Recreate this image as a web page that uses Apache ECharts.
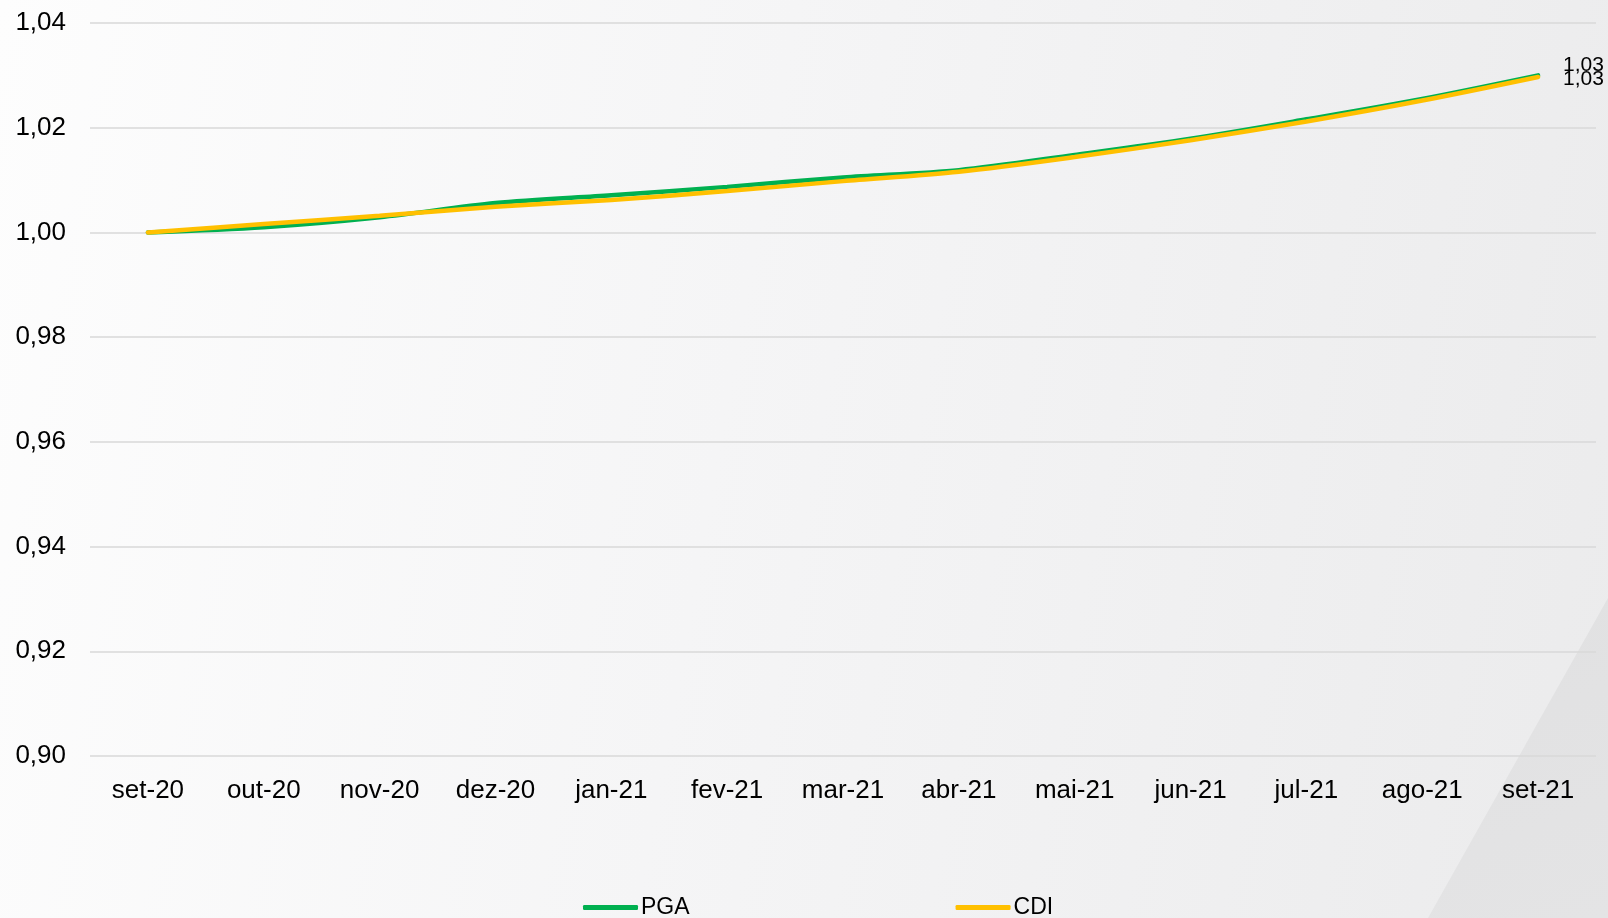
<!DOCTYPE html>
<html>
<head>
<meta charset="utf-8">
<script src="https://cdn.jsdelivr.net/npm/echarts@6/dist/echarts.min.js"></script>
<style>
  html, body { margin: 0; padding: 0; }
  body {
    width: 1608px; height: 918px; overflow: hidden; position: relative;
    background: linear-gradient(100deg, #fdfdfd 0%, #f5f5f6 45%, #ebebec 100%);
  }
  .corner {
    position: absolute; left: 0; top: 0; width: 1608px; height: 918px;
    background: linear-gradient(160deg, #d7d7d8 0%, #e4e4e5 100%);
    clip-path: polygon(1608px 598px, 1608px 918px, 1428px 918px);
  }
  #chart { position: absolute; left: 0; top: 0; width: 1608px; height: 918px; }
</style>
</head>
<body>
<div class="corner"></div>
<div id="chart"></div>
<script>
// dados do gráfico
const meses = ["set-20", "out-20", "nov-20", "dez-20", "jan-21", "fev-21", "mar-21",
               "abr-21", "mai-21", "jun-21", "jul-21", "ago-21", "set-21"];
const pga = [1.0000, 1.0010, 1.0029, 1.0056, 1.0071, 1.0087, 1.0105,
             1.0119, 1.0148, 1.0179, 1.0216, 1.0255, 1.0300];
const cdi = [1.0000, 1.0016, 1.0032, 1.0049, 1.0062, 1.0079, 1.0098,
             1.0116, 1.0144, 1.0176, 1.0212, 1.0252, 1.0297];
const yTicks = [0.90, 0.92, 0.94, 0.96, 0.98, 1.00, 1.02, 1.04];

const fmt = v => v.toFixed(2).replace(".", ",");

let myChart = echarts.init(document.getElementById("chart"));

function serie (nome, dados, cor, dy) {
  return {
    name: nome,
    type: "line",
    data: dados,
    smooth: 0.3,
    symbol: "none",
    lineStyle: { width: 4.5, color: cor, cap: "round" },
    itemStyle: { color: cor },
    // rótulo só no último ponto
    endLabel: {
      show: true,
      distance: 25,
      offset: [0, dy],
      fontFamily: "Liberation Sans",
      fontSize: 21,
      color: "#000",
      formatter: p => fmt(p.value)
    }
  };
}

myChart.setOption({
  animation: false,
  backgroundColor: "transparent",
  grid: { left: 90, right: 12, top: 23, bottom: 162, containLabel: false },
  legend: {
    bottom: -6,
    left: 578,
    itemGap: 266,
    itemWidth: 55,
    itemHeight: 5,
    icon: "roundRect",
    textStyle: { fontFamily: "Liberation Sans", fontSize: 23, color: "#000", padding: [0, 0, 0, -2] },
    data: ["PGA", "CDI"]
  },
  xAxis: {
    type: "category",
    data: meses,
    boundaryGap: true,
    axisLine: { show: false },
    axisTick: { show: false },
    axisLabel: { fontFamily: "Liberation Sans", fontSize: 26, color: "#000", margin: 22, interval: 0 }
  },
  yAxis: {
    type: "value",
    min: yTicks[0],
    max: yTicks[yTicks.length - 1],
    interval: 0.02,
    axisLine: { show: false },
    axisTick: { show: false },
    axisLabel: { fontFamily: "Liberation Sans", fontSize: 26, color: "#000", margin: 24, formatter: fmt },
    splitLine: { lineStyle: { color: "#d9d9d9", width: 1.5 } }
  },
  series: [
    serie("PGA", pga, "#00b050", -10),
    serie("CDI", cdi, "#ffc000", 2)
  ]
});
</script>
</body>
</html>
